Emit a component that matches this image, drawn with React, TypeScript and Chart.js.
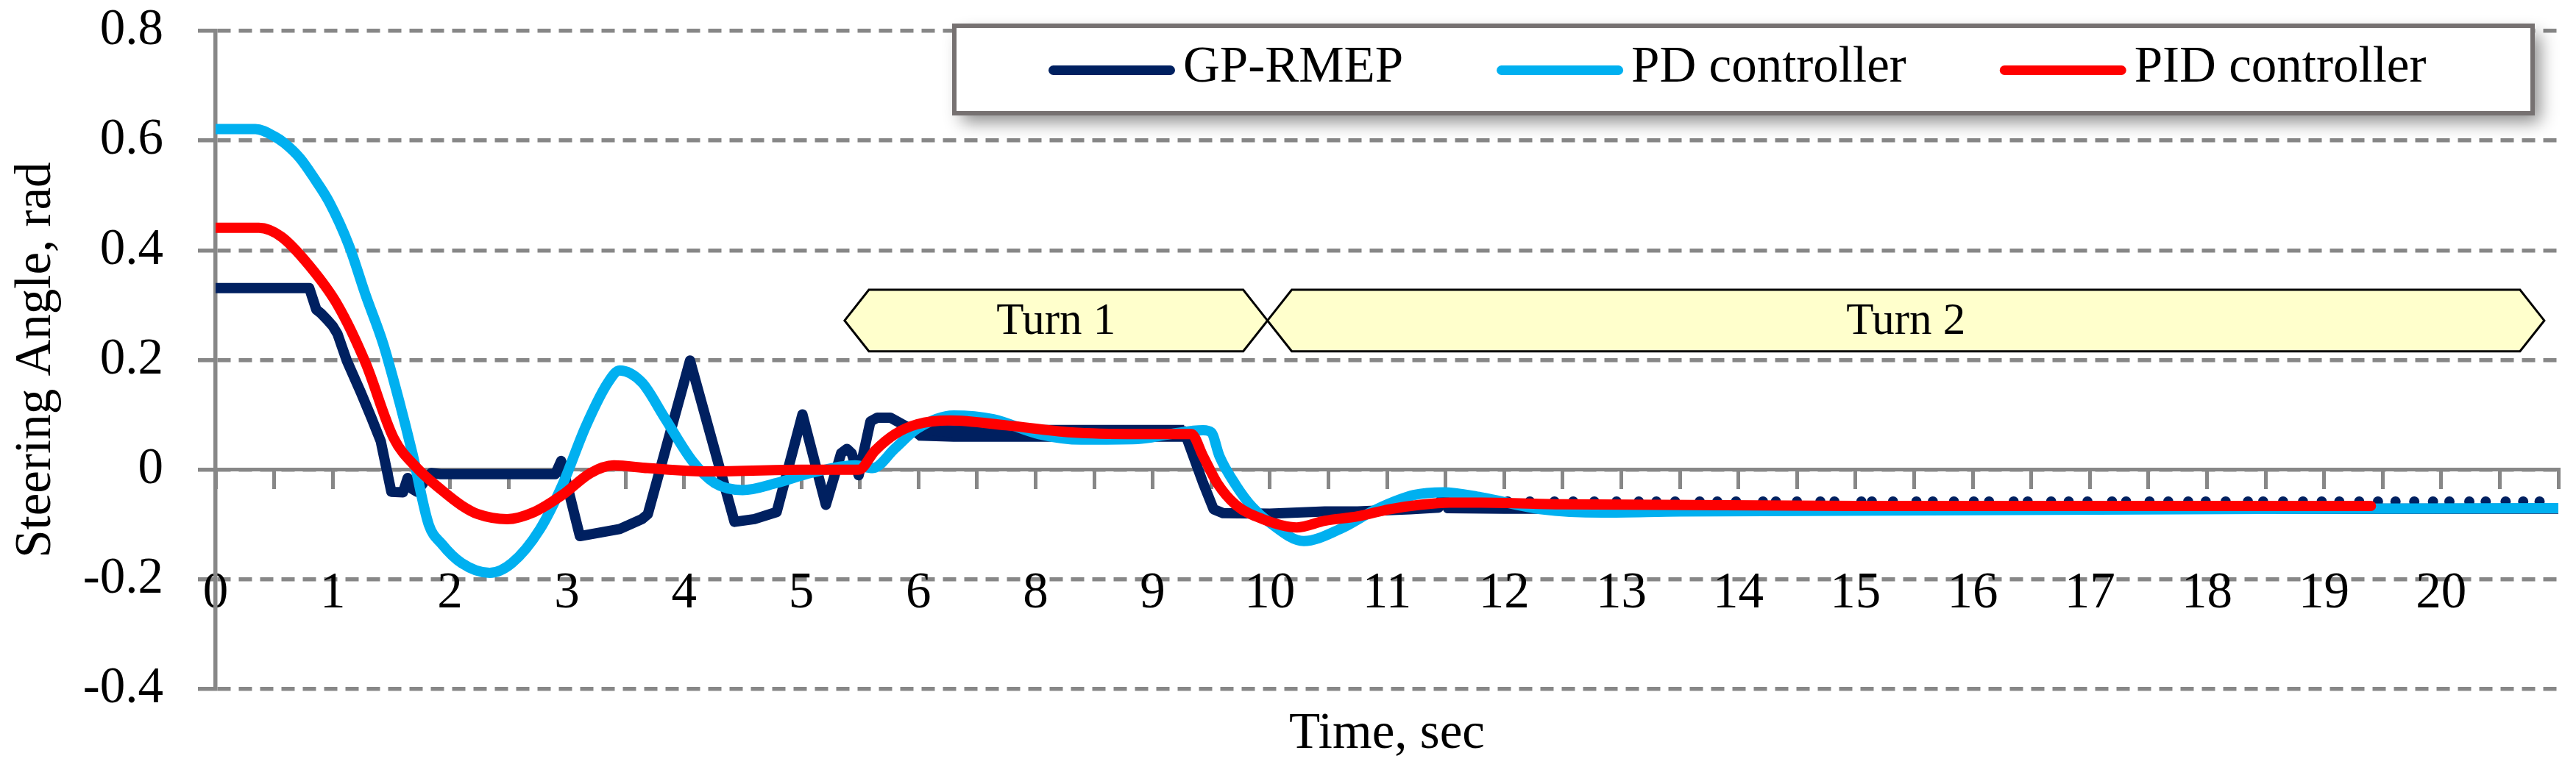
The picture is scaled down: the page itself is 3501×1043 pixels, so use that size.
import { useEffect, useRef } from "react";
import Chart from "chart.js/auto";

// x positions are in steps of the category axis (one step = one printed label)
const TIME_LABELS = ["0", "1", "2", "3", "4", "5", "6", "8", "9", "10", "11", "12", "13", "14", "15", "16", "17", "18", "19", "20"];

const SERIES_NAMES = ["GP-RMEP", "PD controller", "PID controller"];

const GP_T = [0, 0.8, 0.86, 0.9, 0.95, 1.0, 1.04, 1.12, 1.24, 1.33, 1.41, 1.5, 1.6, 1.64, 1.68, 1.72, 1.78, 1.84, 1.92, 2.9, 2.95, 3.11, 3.45, 3.64, 3.69, 4.05, 4.43, 4.6, 4.79, 5.01, 5.21, 5.34, 5.39, 5.43, 5.49, 5.59, 5.65, 5.76, 5.82, 5.93, 6.3, 7.0, 7.6, 8.27, 8.43, 8.52, 8.6, 9.0, 9.47, 9.75, 10.2, 10.44, 10.48, 10.52, 11.0, 20.0];
const GP_V = [0.331, 0.331, 0.292, 0.285, 0.274, 0.262, 0.248, 0.199, 0.141, 0.095, 0.052, -0.04, -0.041, -0.015, -0.035, -0.04, -0.022, -0.006, -0.008, -0.008, 0.016, -0.121, -0.108, -0.09, -0.081, 0.199, -0.095, -0.09, -0.077, 0.101, -0.064, 0.03, 0.038, 0.03, -0.01, 0.088, 0.095, 0.095, 0.088, 0.075, 0.068, 0.068, 0.068, 0.07, -0.024, -0.072, -0.079, -0.08, -0.076, -0.076, -0.072, -0.069, -0.045, -0.07, -0.071, -0.071];

// chattering band of GP-RMEP during turn 1
const GP_BAND_T = [5.9, 6.0, 6.3, 7.0, 7.6, 8.27];
const GP_BAND_TOP = [0.084, 0.083, 0.081, 0.082, 0.082, 0.082];
const GP_BAND_BOTTOM = [0.07, 0.053, 0.051, 0.051, 0.051, 0.051];

// chattering spikes of GP-RMEP during turn 2
const GP_SPIKE_T = [11.03, 11.22, 11.43, 11.59, 11.77, 11.96, 12.15, 12.3, 12.46, 12.67, 12.82, 12.98, 13.21, 13.32, 13.5, 13.7, 13.82, 14.05, 14.14, 14.32, 14.52, 14.66, 14.84, 15.01, 15.14, 15.35, 15.47, 15.67, 15.82, 15.98, 16.19, 16.31, 16.51, 16.67, 16.84, 16.99, 17.16, 17.35, 17.48, 17.65, 17.82, 17.98, 18.13, 18.3, 18.46, 18.61, 18.77, 18.93, 19.07, 19.24, 19.38, 19.55, 19.7, 19.84];
const GP_SPIKE_V = -0.058;

const PD_T = [0, 0.34, 0.5, 0.59, 0.72, 0.84, 0.97, 1.14, 1.28, 1.43, 1.57, 1.68, 1.82, 1.93, 2.1, 2.34, 2.53, 2.77, 2.96, 3.16, 3.35, 3.45, 3.64, 3.83, 4.07, 4.26, 4.5, 4.79, 5.08, 5.46, 5.61, 5.8, 5.99, 6.3, 6.64, 7.03, 7.39, 7.87, 8.15, 8.43, 8.5, 8.57, 8.71, 8.85, 8.99, 9.29, 9.6, 9.91, 10.23, 10.48, 10.8, 11.32, 11.84, 12.5, 20.0];
const PD_V = [0.621, 0.621, 0.608, 0.595, 0.568, 0.532, 0.488, 0.408, 0.319, 0.23, 0.123, 0.03, -0.1, -0.135, -0.17, -0.188, -0.17, -0.108, -0.028, 0.079, 0.159, 0.181, 0.159, 0.096, 0.016, -0.024, -0.037, -0.024, -0.006, 0.008, 0.003, 0.039, 0.075, 0.099, 0.092, 0.065, 0.055, 0.056, 0.065, 0.072, 0.068, 0.025, -0.028, -0.068, -0.095, -0.13, -0.108, -0.072, -0.046, -0.041, -0.05, -0.072, -0.078, -0.076, -0.07];

const PID_T = [0, 0.37, 0.56, 0.8, 1.04, 1.28, 1.52, 1.72, 1.93, 2.1, 2.24, 2.49, 2.72, 2.96, 3.2, 3.4, 3.69, 4.17, 5.0, 5.49, 5.63, 5.8, 5.99, 6.27, 6.75, 7.31, 7.87, 8.33, 8.43, 8.55, 8.71, 8.94, 9.23, 9.47, 9.75, 10.02, 10.28, 10.54, 10.8, 11.5, 14.0, 18.4];
const PID_V = [0.441, 0.441, 0.425, 0.372, 0.301, 0.195, 0.058, 0.003, -0.037, -0.065, -0.081, -0.09, -0.077, -0.046, -0.006, 0.008, 0.003, -0.003, 0, 0, 0.035, 0.065, 0.083, 0.09, 0.081, 0.068, 0.065, 0.065, 0.025, -0.024, -0.064, -0.09, -0.105, -0.093, -0.085, -0.072, -0.064, -0.06, -0.06, -0.063, -0.066, -0.066];

const TURN_NAMES = ["Turn 1", "Turn 2"];
const TURN_START = [5.37, 8.98];
const TURN_END = [8.98, 19.88];

const NAVY = "#002060";
const LIGHT_BLUE = "#00B0F0";
const RED = "#FF0000";
const GRID = "#878787";
const FONT = "'Liberation Serif', 'Times New Roman', serif";

const pts = (t, v) => t.map((x, i) => ({ x, y: Array.isArray(v) ? v[i] : v }));

const turnsPlugin = {
  id: "turns",
  afterDatasetsDraw(chart) {
    const { ctx, scales } = chart;
    const top = scales.y.getPixelForValue(0.328);
    const bottom = scales.y.getPixelForValue(0.216);
    const mid = (top + bottom) / 2;
    const tip = 33;
    ctx.save();
    TURN_NAMES.forEach((name, i) => {
      const x0 = scales.x.getPixelForValue(TURN_START[i]);
      const x1 = scales.x.getPixelForValue(TURN_END[i]);
      ctx.beginPath();
      ctx.moveTo(x0, mid);
      ctx.lineTo(x0 + tip, top);
      ctx.lineTo(x1 - tip, top);
      ctx.lineTo(x1, mid);
      ctx.lineTo(x1 - tip, bottom);
      ctx.lineTo(x0 + tip, bottom);
      ctx.closePath();
      ctx.fillStyle = "#FFFFCC";
      ctx.fill();
      ctx.lineWidth = 3;
      ctx.strokeStyle = "#000";
      ctx.lineJoin = "miter";
      ctx.stroke();
      ctx.fillStyle = "#000";
      ctx.font = `61px ${FONT}`;
      ctx.textAlign = "center";
      ctx.textBaseline = "middle";
      ctx.fillText(name, (x0 + x1) / 2, mid + 2);
    });
    ctx.restore();
  },
};

const legendPlugin = {
  id: "boxLegend",
  afterDraw(chart) {
    const { ctx, chartArea } = chart;
    const left = chartArea.right - 2180;
    const right = chartArea.right - 35;
    const top = chartArea.top - 7;
    const bottom = chartArea.top + 112;
    ctx.save();
    ctx.shadowColor = "rgba(0,0,0,0.45)";
    ctx.shadowBlur = 22;
    ctx.shadowOffsetX = 10;
    ctx.shadowOffsetY = 12;
    ctx.fillStyle = "#fff";
    ctx.fillRect(left, top, right - left, bottom - top);
    ctx.restore();

    ctx.save();
    ctx.lineWidth = 6;
    ctx.strokeStyle = "#767171";
    ctx.strokeRect(left, top, right - left, bottom - top);

    ctx.font = `69px ${FONT}`;
    ctx.textBaseline = "middle";
    ctx.textAlign = "left";
    let x = left + 128;
    const lineY = (top + bottom) / 2 + 1;
    chart.data.datasets.slice(0, SERIES_NAMES.length).forEach((ds) => {
      ctx.strokeStyle = ds.borderColor;
      ctx.lineWidth = 13;
      ctx.lineCap = "round";
      ctx.beginPath();
      ctx.moveTo(x + 6.5, lineY);
      ctx.lineTo(x + 172 - 6.5, lineY);
      ctx.stroke();
      x += 183;
      ctx.fillStyle = "#000";
      ctx.fillText(ds.label, x, lineY - 3);
      x += ctx.measureText(ds.label).width + 127;
    });
    ctx.restore();
  },
};

const lineStyle = {
  borderWidth: 14,
  pointRadius: 0,
  borderJoinStyle: "round",
  borderCapStyle: "round",
  fill: false,
};

export default function App() {
  const canvasRef = useRef(null);

  useEffect(() => {
    const font = { family: FONT, size: 69 };
    const chart = new Chart(canvasRef.current, {
      type: "line",
      data: {
        datasets: [
          { ...lineStyle, label: SERIES_NAMES[0], data: pts(GP_T, GP_V), borderColor: NAVY, tension: 0, order: 3 },
          { ...lineStyle, label: SERIES_NAMES[1], data: pts(PD_T, PD_V), borderColor: LIGHT_BLUE, cubicInterpolationMode: "monotone", order: 2 },
          { ...lineStyle, label: SERIES_NAMES[2], data: pts(PID_T, PID_V), borderColor: RED, cubicInterpolationMode: "monotone", order: 1 },
          { label: "band top", data: pts(GP_BAND_T, GP_BAND_TOP), borderWidth: 0, pointRadius: 0, borderColor: NAVY, fill: false, order: 3 },
          { label: "band bottom", data: pts(GP_BAND_T, GP_BAND_BOTTOM), borderWidth: 0, pointRadius: 0, borderColor: NAVY, backgroundColor: NAVY, fill: "-1", order: 3 },
          { label: "spikes", data: pts(GP_SPIKE_T, GP_SPIKE_V), showLine: false, pointRadius: 7, pointBorderWidth: 0, pointBackgroundColor: NAVY, order: 3 },
        ],
      },
      options: {
        animation: false,
        responsive: true,
        maintainAspectRatio: false,
        events: [],
        layout: { padding: { top: 42, right: 24, bottom: 3, left: 0 } },
        plugins: {
          legend: { display: false },
          tooltip: { enabled: false },
        },
        scales: {
          x: {
            type: "linear",
            position: { y: 0 },
            min: 0,
            max: 20,
            ticks: {
              stepSize: 0.5,
              autoSkip: false,
              maxRotation: 0,
              padding: 104,
              color: "#000",
              font,
              callback: (v) => (Number.isInteger(v) && v < TIME_LABELS.length ? TIME_LABELS[v] : ""),
            },
            grid: { drawOnChartArea: false, drawTicks: true, tickLength: 24, lineWidth: 5, color: GRID },
            border: { display: true, color: GRID, width: 5 },
            afterFit: (scale) => {
              scale.paddingLeft = 0;
              scale.paddingRight = 0;
            },
          },
          x2: {
            type: "linear",
            position: "bottom",
            ticks: { display: false },
            grid: { display: false, drawTicks: false },
            border: { display: false },
            title: { display: true, text: "Time, sec", color: "#000", font, padding: { top: 20, bottom: 0 } },
          },
          y: {
            min: -0.4,
            max: 0.8,
            ticks: {
              stepSize: 0.2,
              padding: 47,
              color: "#000",
              font: { ...font, lineHeight: 1 },
              callback: (v) => String(Math.round(v * 10) / 10),
            },
            grid: { color: GRID, lineWidth: 5.5, tickLength: 24 },
            border: { display: true, color: GRID, width: 5.5, dash: [18, 11] },
            title: { display: true, text: "Steering Angle, rad", color: "#000", font, padding: { top: 8, bottom: 0 } },
            afterFit: (scale) => {
              scale.width = 293;
              scale.paddingTop = 0;
              scale.paddingBottom = 0;
            },
          },
        },
      },
      plugins: [turnsPlugin, legendPlugin],
    });
    return () => chart.destroy();
  }, []);

  return (
    <div style={{ position: "absolute", left: 0, top: 0, width: 3501, height: 1043, background: "#fff" }}>
      <canvas ref={canvasRef} />
    </div>
  );
}
